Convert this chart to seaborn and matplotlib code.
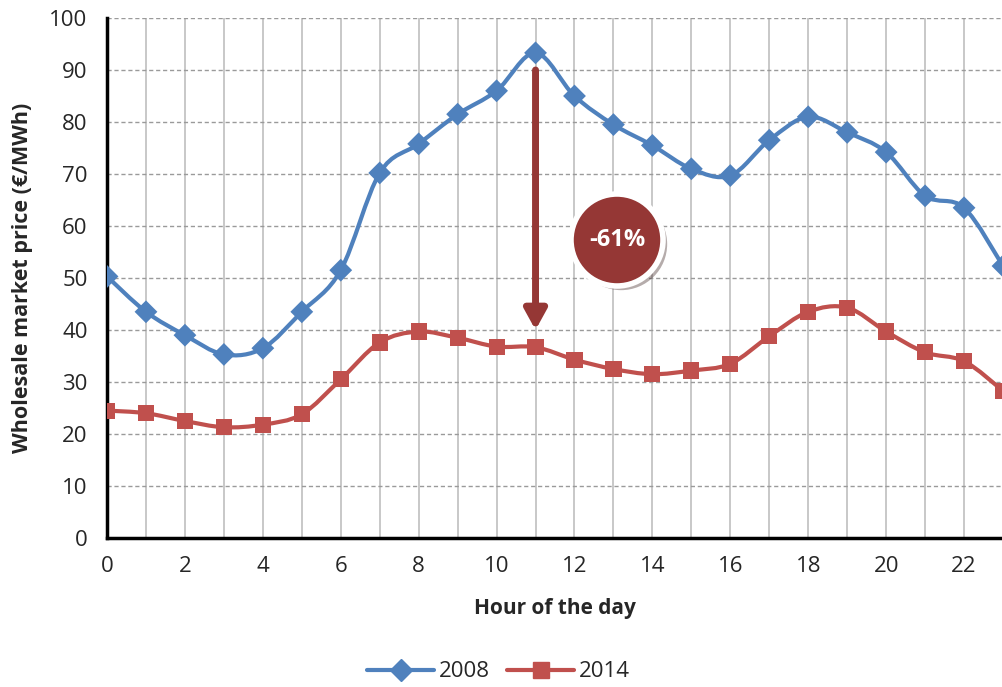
import numpy as np
import pandas as pd
import matplotlib
matplotlib.use("Agg")
import matplotlib.pyplot as plt
import seaborn as sns
from matplotlib.path import Path
from matplotlib.patches import PathPatch, Circle
import matplotlib.patheffects as pe

sns.set_theme(style="white")
plt.rcParams["font.family"] = ["Open Sans", "DejaVu Sans"]

HOURS = list(range(24))
PRICE_2008 = [50.3, 43.5, 39.0, 35.3, 36.5, 43.5, 51.5, 70.2, 75.8, 81.5, 86.0, 93.3,
              85.0, 79.5, 75.5, 71.0, 69.7, 76.5, 81.0, 78.0, 74.2, 65.8, 63.5, 52.3]
PRICE_2014 = [24.5, 24.0, 22.5, 21.3, 21.8, 23.8, 30.5, 37.6, 39.7, 38.5, 36.8, 36.7,
              34.3, 32.5, 31.5, 32.2, 33.5, 38.8, 43.5, 44.3, 39.7, 35.7, 34.0, 28.3]

BLUE = "#4F81BD"
RED = "#C0504D"
DARK_RED = "#953735"

df = pd.DataFrame({"hour": HOURS * 2,
                   "price": PRICE_2008 + PRICE_2014,
                   "year": ["2008"] * 24 + ["2014"] * 24})


def smooth_path(xs, ys):
    # Excel-style smoothed line: Catmull-Rom segments as cubic Bezier curves
    pts = np.column_stack([xs, ys]).astype(float)
    verts = [pts[0]]
    codes = [Path.MOVETO]
    n = len(pts)
    for i in range(n - 1):
        p0 = pts[i - 1] if i > 0 else pts[i]
        p1 = pts[i]
        p2 = pts[i + 1]
        p3 = pts[i + 2] if i + 2 < n else pts[i + 1]
        c1 = p1 + (p2 - p0) / 6.0
        c2 = p2 - (p3 - p1) / 6.0
        verts += [c1, c2, p2]
        codes += [Path.CURVE4] * 3
    return Path(verts, codes)


fig = plt.figure(figsize=(10.03, 6.87), dpi=100)
ax = fig.add_axes([0.1067, 0.2169, 0.8933, 0.7569])

for year, ys, color in [("2008", PRICE_2008, BLUE), ("2014", PRICE_2014, RED)]:
    ax.add_patch(PathPatch(smooth_path(HOURS, ys), facecolor="none",
                           edgecolor=color, lw=3, zorder=3))

sns.scatterplot(data=df, x="hour", y="price", hue="year", style="year",
                markers={"2008": "D", "2014": "s"},
                palette={"2008": BLUE, "2014": RED},
                s=135, edgecolor="none", ax=ax, zorder=4, legend=False)

ax.set_xlim(0, 23)
ax.set_ylim(0, 100)
ax.set_xticks(range(0, 24, 2))
ax.set_xticks(range(24), minor=True)
ax.set_yticks(range(0, 101, 10))
ax.grid(False)
for h in range(1, 24):
    ax.axvline(h, color="#BFBFBF", lw=1.2, zorder=1)
for v in range(10, 101, 10):
    ax.axhline(v, color="#9A9A9A", lw=1, ls=(0, (3, 2)), zorder=1)

for side in ["top", "right"]:
    ax.spines[side].set_visible(False)
for side in ["left", "bottom"]:
    ax.spines[side].set_color("black")
    ax.spines[side].set_linewidth(2.5)
ax.tick_params(axis="both", which="major", direction="in", length=6, width=2.5,
               color="black", labelsize=16, labelcolor="#262626")
ax.tick_params(axis="x", which="major", pad=13)
ax.tick_params(axis="y", which="major", pad=14)
ax.tick_params(axis="x", which="minor", length=0)

ax.set_xlabel("Hour of the day", fontsize=15, fontweight="bold", labelpad=15)
ax.set_ylabel("Wholesale market price (€/MWh)", fontsize=15.5, fontweight="bold", labelpad=12)

# arrow showing the drop
ax.annotate("", xy=(11, 40), xytext=(11, 90),
            arrowprops=dict(arrowstyle="-|>,head_length=1.0,head_width=0.55",
                            color=DARK_RED, lw=5, shrinkA=0, shrinkB=0), zorder=5)

# -61% bubble
circ = Circle((617, 687 - 240), 46, transform=None, facecolor=DARK_RED,
              edgecolor="white", lw=4, zorder=6,
              path_effects=[pe.SimplePatchShadow(offset=(3, -3), alpha=0.35),
                            pe.Normal()])
fig.patches.append(circ)
fig.text(617 / 1003, 1 - 240 / 687, "-61%", color="white", fontsize=17,
         fontweight="bold", ha="center", va="center", zorder=7)

# legend
handles = [plt.Line2D([], [], color=BLUE, lw=3, marker="D", markersize=11),
           plt.Line2D([], [], color=RED, lw=3, marker="s", markersize=12)]
fig.legend(handles, ["2008", "2014"], loc="center", bbox_to_anchor=(0.497, 0.022),
           ncol=2, frameon=False, fontsize=16, handlelength=3.0,
           columnspacing=0.8, handletextpad=0.2, borderpad=0.1)

fig.savefig("out.png", dpi=100)
